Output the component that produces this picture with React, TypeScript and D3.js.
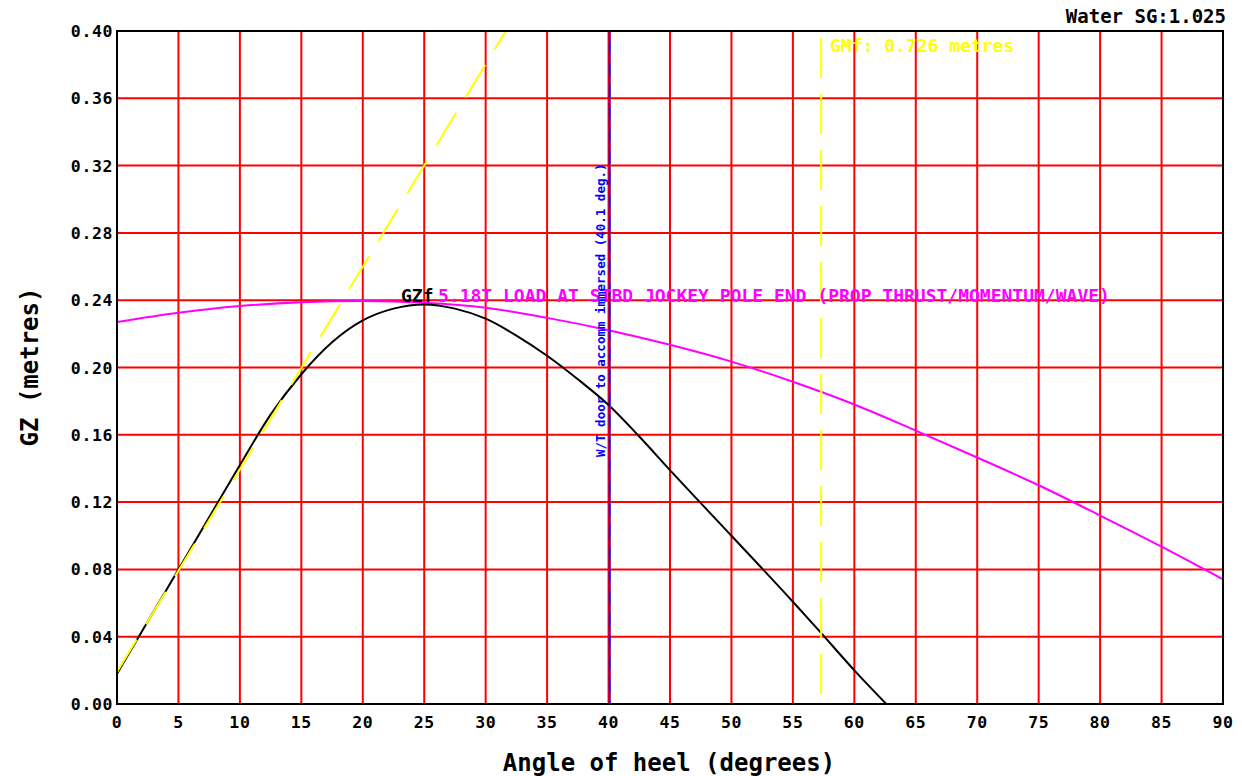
import React from "react";
import * as d3 from "d3";

const xTicks = [0, 5, 10, 15, 20, 25, 30, 35, 40, 45, 50, 55, 60, 65, 70, 75, 80, 85, 90];
const yTicks = [0, 0.04, 0.08, 0.12, 0.16, 0.2, 0.24, 0.28, 0.32, 0.36, 0.4];

const gzAngles = [0, 2.5, 5, 7.5, 10, 12.5, 15, 17.5, 20, 22.5, 25, 27.5, 30, 32.5, 35, 37.5, 40, 42.5, 45, 50, 55, 57.2, 60, 62.6];
const gzValues = [0.018, 0.049, 0.08, 0.111, 0.142, 0.172, 0.196, 0.215, 0.228, 0.235, 0.2375, 0.235, 0.229, 0.219, 0.207, 0.193, 0.1777, 0.159, 0.139, 0.1, 0.0608, 0.043, 0.02, 0.0];

const heelAngles = [0, 5, 10, 15, 20, 25, 30, 35, 40, 45, 50, 55, 60, 65, 70, 75, 80, 85, 90];
const heelValues = [0.227, 0.2325, 0.2365, 0.2388, 0.2395, 0.2385, 0.2355, 0.2295, 0.2222, 0.2135, 0.2035, 0.1915, 0.178, 0.1625, 0.1465, 0.13, 0.112, 0.0935, 0.0741];

const gmAngles = [0, 57.3];
const gmValues = [0.019, 0.709];

const downfloodAngle = 40.1;
const gmRadianAngle = 57.3;

const W = 1242, H = 776;
const L = 117, R = 1223, T = 31, B = 704;
const MONO = "'DejaVu Sans Mono', monospace";

export default function App() {
  const x = d3.scaleLinear().domain([0, 90]).range([L, R]);
  const y = d3.scaleLinear().domain([0, 0.4]).range([B, T]);

  const gzLine = d3.line<number>().x((_, i) => x(gzAngles[i])).y((d) => y(d)).curve(d3.curveMonotoneX);
  const heelLine = d3.line<number>().x((_, i) => x(heelAngles[i])).y((d) => y(d)).curve(d3.curveMonotoneX);
  const gmLine = d3.line<number>().x((_, i) => x(gmAngles[i])).y((d) => y(d));

  return (
    <svg width={W} height={H} style={{ position: "absolute", left: 0, top: 0, background: "#fff" }}>
      <defs>
        <clipPath id="plot">
          <rect x={L} y={T} width={R - L} height={B - T} />
        </clipPath>
      </defs>
      {xTicks.slice(1, -1).map((t) => (
        <line key={"gx" + t} x1={x(t)} x2={x(t)} y1={T} y2={B} stroke="#ff0000" strokeWidth={2} />
      ))}
      {yTicks.slice(1, -1).map((t) => (
        <line key={"gy" + t} x1={L} x2={R} y1={y(t)} y2={y(t)} stroke="#ff0000" strokeWidth={2} />
      ))}
      <g clipPath="url(#plot)">
        <path d={heelLine(heelValues) || ""} fill="none" stroke="#ff00ff" strokeWidth={2} />
        <path d={gzLine(gzValues) || ""} fill="none" stroke="#000" strokeWidth={2} />
        <path d={gmLine(gmValues) || ""} fill="none" stroke="#ffff00" strokeWidth={2} strokeDasharray="38,18" />
        <line x1={x(gmRadianAngle)} x2={x(gmRadianAngle)} y1={38} y2={B} stroke="#ffff00" strokeWidth={2} strokeDasharray="40,16" />
        <line x1={x(downfloodAngle)} x2={x(downfloodAngle)} y1={T} y2={B} stroke="#0000ff" strokeWidth={2} />
        <line x1={x(downfloodAngle) + 0.5} x2={x(downfloodAngle) + 0.5} y1={T} y2={B} stroke="#ff3030" strokeWidth={1} strokeDasharray="10,12" opacity={0.7} />
      </g>
      <rect x={L} y={T} width={R - L} height={B - T} fill="none" stroke="#000" strokeWidth={2} />
      {yTicks.map((t) => (
        <text key={"ty" + t} x={113} y={y(t) + 6} textAnchor="end" fontFamily={MONO} fontWeight="bold" fontSize={16.5} letterSpacing={0.6} fill="#000">
          {t.toFixed(2)}
        </text>
      ))}
      {xTicks.map((t) => (
        <text key={"tx" + t} x={x(t)} y={728} textAnchor="middle" fontFamily={MONO} fontWeight="bold" fontSize={16.5} letterSpacing={0.6} fill="#000">
          {String(t)}
        </text>
      ))}
      <text x={669} y={771} textAnchor="middle" fontFamily={MONO} fontWeight="bold" fontSize={24} fill="#000">
        Angle of heel (degrees)
      </text>
      <text transform="translate(38,367) rotate(-90)" textAnchor="middle" fontFamily={MONO} fontWeight="bold" fontSize={24} fill="#000">
        GZ (metres)
      </text>
      <text x={1226} y={23} textAnchor="end" fontFamily={MONO} fontWeight="bold" fontSize={19} fill="#000">
        Water SG:1.025
      </text>
      <text x={830} y={52} fontFamily={MONO} fontWeight="bold" fontSize={18} fill="#ffff00">
        GMf: 0.726 metres
      </text>
      <text x={401} y={302} fontFamily={MONO} fontWeight="bold" fontSize={18} fill="#000">
        GZf
      </text>
      <text x={438} y={302} fontFamily={MONO} fontWeight="bold" fontSize={18} fill="#ff00ff">
        5.18T LOAD AT STBD JOCKEY POLE END (PROP THRUST/MOMENTUM/WAVE)
      </text>
      <text transform={`translate(605,457) rotate(-90)`} fontFamily={MONO} fontWeight="bold" fontSize={12.5} fill="#0000ff">
        W/T door to accomm immersed (40.1 deg.)
      </text>
    </svg>
  );
}
